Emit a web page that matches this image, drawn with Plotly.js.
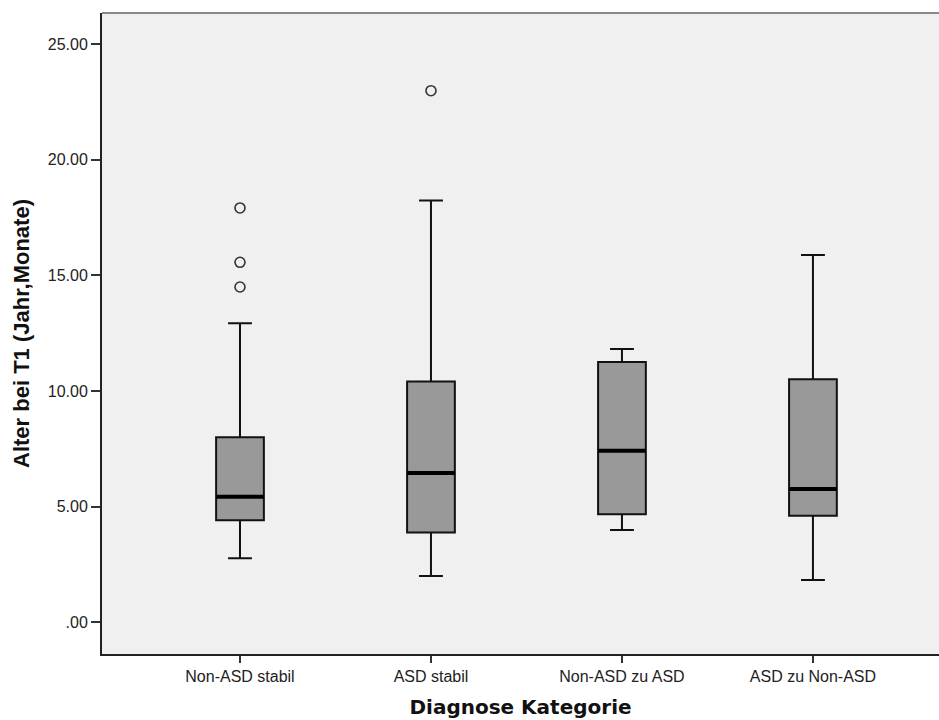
<!DOCTYPE html>
<html>
<head>
<meta charset="utf-8">
<script src="https://cdn.plot.ly/plotly-3.0.1.min.js"></script>
<style>html,body{margin:0;padding:0;background:#fff;}#chart{width:939px;height:720px;}</style>
</head>
<body>
<div id="chart"></div>
<script>
// Categories (x axis)
const categories = ["Non-ASD stabil", "ASD stabil", "Non-ASD zu ASD", "ASD zu Non-ASD"];
// Box statistics per category (Alter bei T1)
const lowerWhisker = [2.77, 2.00, 3.99, 1.83];
const q1Values     = [4.41, 3.88, 4.67, 4.61];
const medians      = [5.43, 6.46, 7.42, 5.77];
const q3Values     = [8.00, 10.41, 11.26, 10.51];
const upperWhisker = [12.93, 18.24, 11.82, 15.89];
// Outliers: category index and value
const outlierCategory = [0, 0, 0, 1];
const outlierValues   = [17.92, 15.57, 14.50, 22.99];
// Y tick labels
const yTickValues = [0, 5, 10, 15, 20, 25];
const yTickLabels = [".00", "5.00", "10.00", "15.00", "20.00", "25.00"];

const catIdx = categories.map((c, i) => i);
const boxWidth = 0.25;

const traces = [];
traces.push({
  type: "box",
  x: catIdx,
  q1: q1Values,
  median: medians,
  q3: q3Values,
  lowerfence: lowerWhisker,
  upperfence: upperWhisker,
  width: boxWidth,
  whiskerwidth: 0.5,
  fillcolor: "#999999",
  line: { color: "#111111", width: 2 },
  boxpoints: false,
  hoverinfo: "skip",
  showlegend: false
});
// Thick median lines
catIdx.forEach((i) => {
  traces.push({
    type: "scatter",
    mode: "lines",
    x: [i - boxWidth / 2, i + boxWidth / 2],
    y: [medians[i], medians[i]],
    line: { color: "#000000", width: 4 },
    hoverinfo: "skip",
    showlegend: false
  });
});
traces.push({
  type: "scatter",
  mode: "markers",
  x: outlierCategory,
  y: outlierValues,
  marker: { symbol: "circle-open", size: 10, color: "#333333", line: { width: 1.6, color: "#333333" } },
  hoverinfo: "skip",
  showlegend: false
});

const layout = {
  width: 939,
  height: 720,
  margin: { l: 102, r: 0, t: 13, b: 66, pad: 0 },
  paper_bgcolor: "#ffffff",
  plot_bgcolor: "#F0F0F0",
  showlegend: false,
  xaxis: {
    range: [-0.7225, 3.66],
    tickmode: "array",
    tickvals: catIdx,
    ticktext: categories,
    ticks: "outside",
    ticklen: 7,
    tickwidth: 2,
    tickcolor: "#333333",
    showgrid: false,
    zeroline: false,
    showline: true,
    linecolor: "#222222",
    linewidth: 2,
    tickfont: { family: "Liberation Sans, Arial, sans-serif", size: 16, color: "#222222" },
    title: { text: "Diagnose Kategorie", font: { family: "DejaVu Sans, sans-serif", size: 20, color: "#111111", weight: "bold" }, standoff: 16 },
    fixedrange: true
  },
  yaxis: {
    range: [-1.37, 26.35],
    tickmode: "array",
    tickvals: yTickValues,
    ticktext: yTickLabels,
    ticks: "outside",
    ticklen: 9,
    tickwidth: 2,
    tickcolor: "#333333",
    showgrid: false,
    zeroline: false,
    showline: true,
    linecolor: "#222222",
    linewidth: 2,
    tickfont: { family: "Liberation Sans, Arial, sans-serif", size: 16, color: "#222222" },
    title: { text: "Alter bei T1 (Jahr,Monate)", font: { family: "Liberation Sans, Arial, sans-serif", size: 22, color: "#111111", weight: "bold" }, standoff: 12 },
    fixedrange: true
  },
  shapes: [
    { type: "line", xref: "paper", yref: "paper", x0: 0, x1: 1, y0: 1, y1: 1, line: { color: "#888888", width: 2 } }
  ]
};

Plotly.newPlot("chart", traces, layout, { displayModeBar: false, staticPlot: true });
</script>
</body>
</html>
